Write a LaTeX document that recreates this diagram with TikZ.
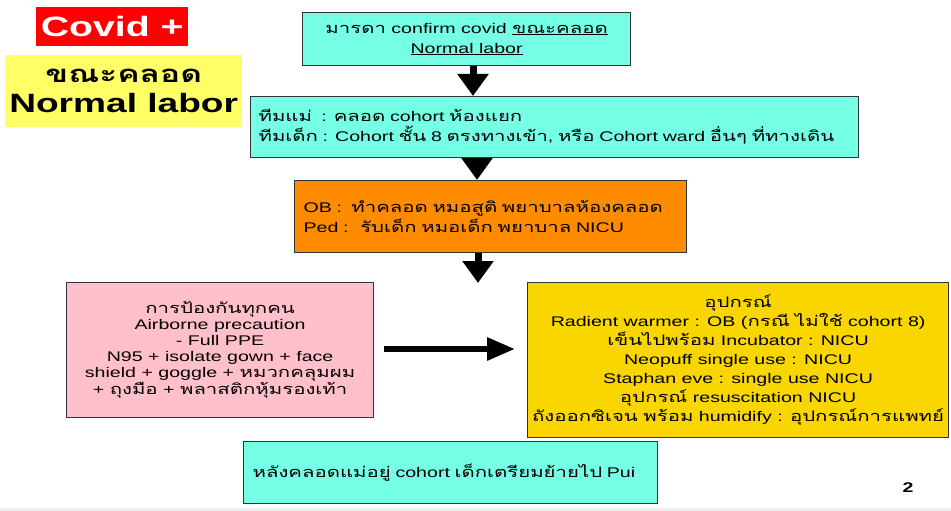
\documentclass[tikz,border=0pt]{standalone}
\usepackage{fontspec}
\usepackage{xcolor}
\usepackage{tikz}
\usetikzlibrary{arrows.meta,positioning}
\setmainfont{Liberation Sans}[FakeStretch=1.4]
\newfontfamily\latinfont{Liberation Sans}[FakeStretch=1.4]
\newfontfamily\thaifont{Loma}[Script=Thai,FakeStretch=1.4,Scale=1.04]
% Thai characters switch to Loma on their own
\XeTeXinterchartokenstate=1
\newXeTeXintercharclass\thaiclass
\newcount\thaich
\thaich="0E00
\loop
  \XeTeXcharclass\thaich=\thaiclass
  \ifnum\thaich<"0E7F \advance\thaich by 1
\repeat
\XeTeXinterchartoks 0 \thaiclass = {\thaifont}
\XeTeXinterchartoks 4095 \thaiclass = {\thaifont}
\XeTeXinterchartoks \thaiclass 0 = {\latinfont}
\XeTeXinterchartoks \thaiclass 4095 = {\latinfont}
\definecolor{tealfill}{RGB}{117,255,229}
\definecolor{orangefill}{RGB}{255,140,0}
\definecolor{pinkfill}{RGB}{255,192,203}
\definecolor{goldfill}{RGB}{250,214,0}
\definecolor{labelyellow}{RGB}{255,255,102}
\definecolor{covidred}{RGB}{255,0,0}

\begin{document}
\begin{tikzpicture}[
      x=1pt,y=-1pt,
      card/.style={draw=black!80,line width=1.2pt,inner sep=0pt,anchor=north west,font=\fontsize{14}{20}\selectfont},
      tealbox/.style={card,fill=tealfill},
      orangebox/.style={card,fill=orangefill},
      pinkbox/.style={card,fill=pinkfill,font=\fontsize{14}{16}\selectfont},
      goldbox/.style={card,fill=goldfill,font=\fontsize{14}{19}\selectfont},
      bigarr/.style={line width=7pt,-{Triangle[length=22pt,width=30pt]}},
      sidearr/.style={line width=6pt,-{Triangle[length=28pt,width=22pt]}}]
    \useasboundingbox (0,0) rectangle (951,511);
    \fill[black!7] (0,508) rectangle (951,511);
    % headings
    \node[fill=covidred,text=white,font=\bfseries\fontsize{28}{30}\selectfont,minimum width=152pt,minimum height=39pt,inner sep=0pt,anchor=north west] (covid) at (36,7) {Covid +};
    \node[fill=labelyellow,font=\bfseries\fontsize{26.5}{30}\selectfont,align=center,minimum width=237pt,minimum height=72pt,inner sep=0pt,anchor=north west] (phase) at (5,55) {{\fontsize{23}{30}\selectfont ขณะคลอด}\\Normal labor};
    % flow
    \node[tealbox,align=center,minimum width=328pt,minimum height=53pt] (mother) at (302,12) {มารดา confirm covid \underline{ขณะคลอด}\\\underline{Normal labor}};
    \node[tealbox,align=left,text width=592pt,inner xsep=8pt,minimum height=61pt] (teams) at (250,96) {ทีมแม่~ : คลอด cohort ห้องแยก\\ทีมเด็ก : Cohort ชั้น 8 ตรงทางเข้า, หรือ Cohort ward อื่นๆ ที่ทางเดิน};
    \node[orangebox,align=left,text width=374pt,inner xsep=9pt,minimum height=72pt] (staff) at (294,180) {OB :~ ทำคลอด หมอสูติ พยาบาลห้องคลอด\\Ped :~ รับเด็ก หมอเด็ก พยาบาล NICU};
    \node[pinkbox,align=center,minimum width=307pt,minimum height=135pt] (ppe) at (66,282) {การป้องกันทุกคน\\Airborne precaution\\- Full PPE\\N95 + isolate gown + face\\shield + goggle + หมวกคลุมผม\\+ ถุงมือ + พลาสติกหุ้มรองเท้า};
    \node[goldbox,align=center,minimum width=421pt,minimum height=155pt] (equip) at (527,282) {อุปกรณ์\\Radient warmer : OB (กรณี ไม่ใช้ cohort 8)\\เข็นไปพร้อม Incubator : NICU\\Neopuff single use : NICU\\Staphan eve : single use NICU\\อุปกรณ์ resuscitation NICU\\ถังออกซิเจน พร้อม humidify : อุปกรณ์การแพทย์};
    \node[tealbox,align=left,text width=396pt,inner xsep=9pt,minimum height=62pt] (after) at (243,441) {หลังคลอดแม่อยู่ cohort เด็กเตรียมย้ายไป Pui};
    \node[font=\bfseries\fontsize{14}{16}\selectfont] (pnum) at (908,488) {2};
    % arrows
    \coordinate (ax1) at (473,0);
    \coordinate (ax2) at (477,0);
    \coordinate (tip) at (478,283);
    \coordinate (hy) at (0,349);
    \draw[bigarr] (mother.south -| ax1) -- (teams.north -| ax1);
    \draw[bigarr] (teams.south -| ax2) -- (staff.north -| ax2);
    \draw[bigarr] (staff.south -| tip) -- (tip);
    \draw[sidearr,shorten <=10pt,shorten >=12pt] (ppe.east |- hy) -- (equip.west |- hy);
  \end{tikzpicture}
\end{document}
